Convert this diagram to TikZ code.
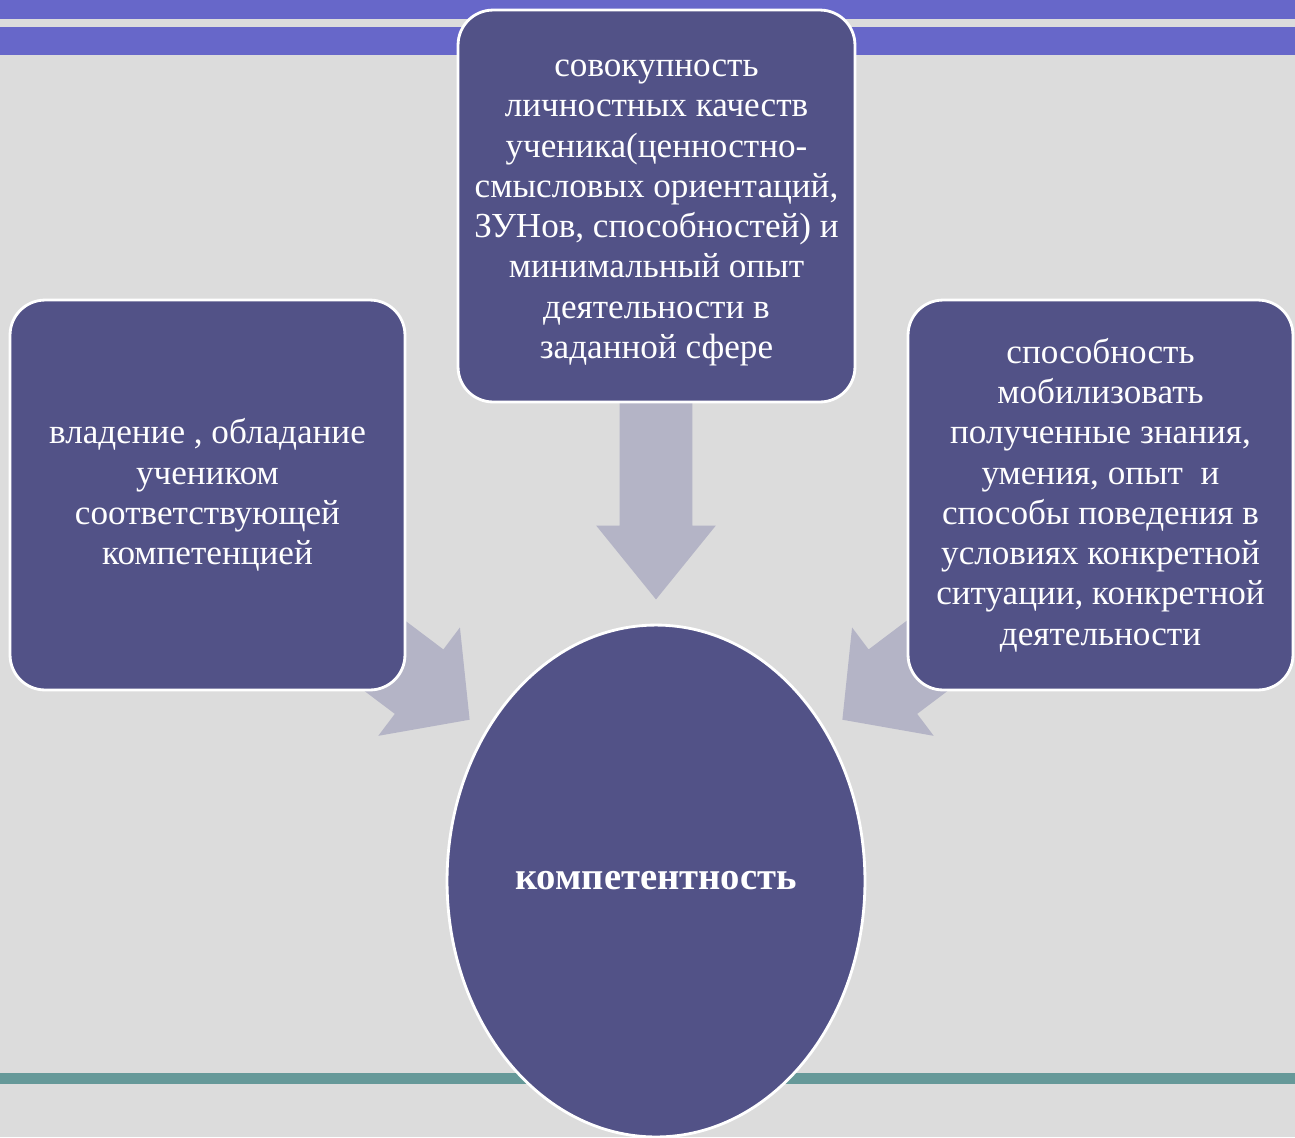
\documentclass[tikz,border=0pt]{standalone}
\usepackage{fontspec}
\setmainfont{Liberation Serif}
\usetikzlibrary{shapes.geometric,shapes.arrows}

\definecolor{bggray}{HTML}{DCDCDC}
\definecolor{barblue}{HTML}{6767C9}
\definecolor{boxblue}{HTML}{525287}
\definecolor{arrowgray}{HTML}{B4B4C6}
\definecolor{lineteal}{HTML}{669999}

\tikzset{
  box/.style={draw=white, line width=1.6pt, fill=boxblue, rounded corners=0.7cm,
    align=center, text=white, inner sep=0pt, font=\fontsize{20}{22.9}\selectfont},
  blockarrow/.style={single arrow, fill=arrowgray, draw=none, inner xsep=0pt, anchor=tip},
}

\begin{document}
\begin{tikzpicture}[x=0.02cm, y=-0.02cm]
    \clip (0,0) rectangle (1295,1137);
    \fill[bggray] (0,0) rectangle (1295,1137);

    % полосы сверху и снизу
    \fill[barblue] (0,0) rectangle (1295,19);
    \fill[barblue] (0,27) rectangle (1295,55);
    \fill[lineteal] (0,1073) rectangle (1295,1084);

    % стрелки
    \node[blockarrow, rotate=-90, minimum height=4.1cm, inner ysep=0.72cm,
          single arrow head extend=0.47cm, single arrow tip angle=78] (arrTop) at (656,600) {};
    \node[blockarrow, rotate=-37, minimum height=3cm, inner ysep=0.8cm,
          single arrow head extend=0.55cm, single arrow tip angle=94] (arrLeft) at (470,720) {};
    \node[blockarrow, rotate=-143, minimum height=3cm, inner ysep=0.8cm,
          single arrow head extend=0.55cm, single arrow tip angle=94] (arrRight) at (842,720) {};

    % блоки
    \node[box, minimum width=7.94cm, minimum height=7.84cm] (quality) at (656.5,206)
        {\rule{0pt}{17.3pt}совокупность\\личностных качеств\\ученика(ценностно-\\смысловых ориентаций,\\ЗУНов, способностей) и\\минимальный опыт\\деятельности в\\заданной сфере};
    \node[box, minimum width=7.9cm, minimum height=7.8cm] (possess) at (207.5,495)
        {владение , обладание\\учеником\\соответствующей\\компетенцией};
    \node[box, minimum width=7.7cm, minimum height=7.8cm] (ability) at (1100.5,495)
        {способность\\мобилизовать\\полученные знания,\\умения, опыт\ \ и\\способы поведения в\\условиях конкретной\\ситуации, конкретной\\деятельности};

    % компетентность
    \node[ellipse, draw=white, line width=1.6pt, fill=boxblue, text=white,
          minimum width=8.36cm, minimum height=10.24cm,
          font=\fontsize{22}{24}\selectfont\bfseries] (comp) at (656,881) {компетентность};
\end{tikzpicture}
\end{document}
